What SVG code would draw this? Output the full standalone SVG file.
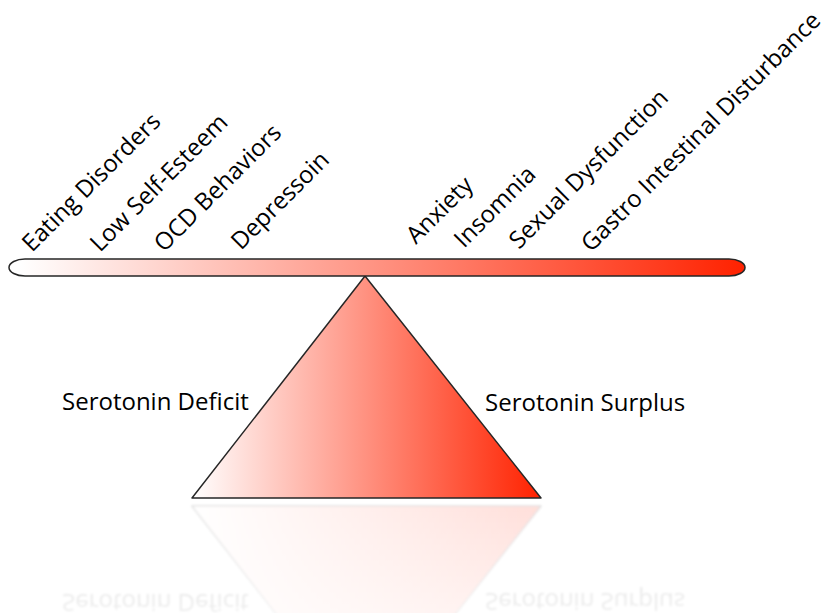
<svg xmlns="http://www.w3.org/2000/svg" width="828" height="613" viewBox="0 0 828 613">
  <style>
    .lbl { font-family: "Open Sans", "Noto Sans", sans-serif; font-size: 24px; fill: #000; }
    .shape { stroke: #262626; stroke-width: 1.5; stroke-linejoin: round; }
  </style>
  <defs>
    <linearGradient id="barGrad" gradientUnits="userSpaceOnUse" x1="20" y1="0" x2="745" y2="0">
      <stop offset="0" stop-color="#ffffff"/>
      <stop offset="1" stop-color="#ff2200"/>
    </linearGradient>
    <linearGradient id="triGrad" gradientUnits="userSpaceOnUse" x1="192" y1="0" x2="541" y2="0">
      <stop offset="0" stop-color="#ffffff"/>
      <stop offset="1" stop-color="#ff2200"/>
    </linearGradient>
    <linearGradient id="fadeGrad" gradientUnits="userSpaceOnUse" x1="0" y1="503" x2="0" y2="613">
      <stop offset="0" stop-color="#fff" stop-opacity="0.15"/>
      <stop offset="1" stop-color="#fff" stop-opacity="0.07"/>
    </linearGradient>
    <mask id="fadeMask" maskUnits="userSpaceOnUse" x="0" y="500" width="828" height="113">
      <rect x="0" y="500" width="828" height="113" fill="url(#fadeGrad)"/>
    </mask>
    <filter id="soft" x="-5%" y="-5%" width="110%" height="110%">
      <feGaussianBlur stdDeviation="0.8"/>
    </filter>
  </defs>

  <g id="reflection" mask="url(#fadeMask)" filter="url(#soft)">
    <g transform="translate(0,1004) scale(1,-1)">
      <polygon class="shape" points="365,276 541,498 192,498" fill="url(#triGrad)"/>
      <text class="lbl" x="62" y="410">Serotonin Deficit</text>
      <text class="lbl" x="485" y="411">Serotonin Surplus</text>
    </g>
  </g>

  <g id="fulcrum">
    <polygon class="shape" points="365,276 541,498 192,498" fill="url(#triGrad)"/>
  </g>

  <g id="beam">
    <rect class="shape" x="9" y="259" width="736" height="17" rx="16" ry="8.5" fill="url(#barGrad)"/>
  </g>

  <g id="side-deficit">
    <text class="lbl" x="62" y="410">Serotonin Deficit</text>
  </g>
  <g id="side-surplus">
    <text class="lbl" x="485" y="411">Serotonin Surplus</text>
  </g>

  <g id="label-eating"><text class="lbl" transform="translate(32,253) rotate(-45)">Eating Disorders</text></g>
  <g id="label-selfesteem"><text class="lbl" transform="translate(100,253) rotate(-45)">Low Self-Esteem</text></g>
  <g id="label-ocd"><text class="lbl" transform="translate(164,253) rotate(-45)">OCD Behaviors</text></g>
  <g id="label-depression"><text class="lbl" transform="translate(241,251) rotate(-45)">Depressoin</text></g>
  <g id="label-anxiety"><text class="lbl" transform="translate(416,245) rotate(-45)">Anxiety</text></g>
  <g id="label-insomnia"><text class="lbl" transform="translate(464,249) rotate(-45)">Insomnia</text></g>
  <g id="label-sexual"><text class="lbl" transform="translate(519,250) rotate(-45)">Sexual Dysfunction</text></g>
  <g id="label-gastro"><text class="lbl" transform="translate(591,253) rotate(-45)">Gastro Intestinal Disturbance</text></g>
</svg>
